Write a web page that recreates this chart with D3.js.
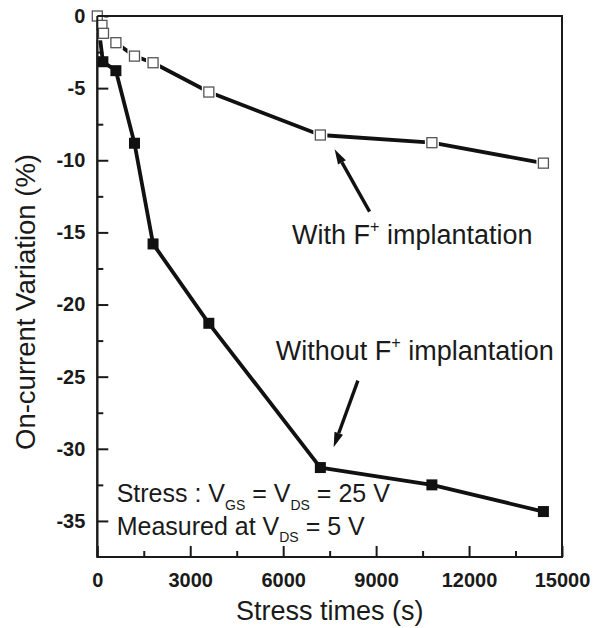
<!DOCTYPE html>
<html><head><meta charset="utf-8">
<script src="https://cdn.jsdelivr.net/npm/d3@7"></script>
<style>body{margin:0;background:#fff}svg{display:block}text{font-family:"Liberation Sans",Arial,sans-serif;fill:#1a1a1a}</style>
</head><body><svg id="c" width="594" height="628"></svg>
<script>
// Data (stress time in s, on-current variation in %)
const timesWith = [0, 150, 200, 600, 1200, 1800, 3600, 7200, 10800, 14400];
const valuesWith = [0, -0.65, -1.2, -1.85, -2.78, -3.24, -5.27, -8.25, -8.78, -10.2];
const timesWithout = [0, 180, 600, 1200, 1800, 3600, 7200, 10800, 14400];
const valuesWithout = [0, -3.17, -3.79, -8.82, -15.8, -21.3, -31.3, -32.5, -34.35];
const xTicks = [0, 3000, 6000, 9000, 12000, 15000];
const yTicks = [0, -5, -10, -15, -20, -25, -30, -35];
const xDomain = [0, 15000];
const yDomain = [-37.5, 0];
// annotation anchors in data units
const arrowWith = {from: [8788, -13.56], to: [7660, -9.24]};
const arrowWithout = {from: [8411, -25.28], to: [7628, -29.9]};

const svg = d3.select("#c");
const L = 97.3, R = 562, T = 16, B = 557;
const x = d3.scaleLinear().domain(xDomain).range([L, R]);
const y = d3.scaleLinear().domain(yDomain).range([B, T]);

// minor ticks
const xMinor = d3.range(1500, 15000, 3000);
const yMinor = d3.range(-2.5, -37.5, -5);

const gx = svg.append("g").attr("transform", `translate(0,${B})`);
gx.call(d3.axisBottom(x).tickValues(xMinor).tickSize(-6).tickFormat(""));
gx.call(g => g.select(".domain").remove());
const gx2 = svg.append("g").attr("transform", `translate(0,${B})`);
gx2.call(d3.axisBottom(x).tickValues(xTicks).tickSize(-11).tickPadding(16).tickFormat(d3.format("d")));
gx2.select(".domain").remove();
gx2.selectAll("text").attr("font-size", 20).attr("font-weight", "bold").attr("fill", "#1a1a1a").attr("font-family", "Liberation Sans, Arial, sans-serif");

const gy = svg.append("g").attr("transform", `translate(${L},0)`);
gy.call(d3.axisLeft(y).tickValues(yMinor).tickSize(-6).tickFormat(""));
gy.select(".domain").remove();
const gy2 = svg.append("g").attr("transform", `translate(${L},0)`);
gy2.call(d3.axisLeft(y).tickValues(yTicks).tickSize(-11).tickPadding(12).tickFormat(d => d === 0 ? "0" : "-" + Math.abs(d)));
gy2.select(".domain").remove();
gy2.selectAll("text").attr("font-size", 20).attr("font-weight", "bold").attr("fill", "#1a1a1a").attr("font-family", "Liberation Sans, Arial, sans-serif");
svg.selectAll(".tick line").attr("stroke", "#1a1a1a").attr("stroke-width", 2);

// frame
svg.append("rect").attr("x", L).attr("y", T).attr("width", R - L).attr("height", B - T)
  .attr("fill", "none").attr("stroke", "#1a1a1a").attr("stroke-width", 2);

const line = d3.line().x(d => x(d[0])).y(d => y(d[1]));
const dWithout = timesWithout.map((t, i) => [t, valuesWithout[i]]);
const dWith = timesWith.map((t, i) => [t, valuesWith[i]]);

svg.append("path").datum(dWithout).attr("d", line).attr("fill", "none")
  .attr("stroke", "#111").attr("stroke-width", 3.8).attr("stroke-linejoin", "round");
svg.append("g").selectAll("rect").data(dWithout.slice(1)).join("rect")
  .attr("x", d => x(d[0]) - 5.5).attr("y", d => y(d[1]) - 5.5).attr("width", 11).attr("height", 11)
  .attr("fill", "#111");

svg.append("path").datum(dWith).attr("d", line).attr("fill", "none")
  .attr("stroke", "#111").attr("stroke-width", 3.8).attr("stroke-linejoin", "round");
const gw = svg.append("g");
gw.selectAll("rect.halo").data(dWith).join("rect").attr("class", "halo")
  .attr("x", d => x(d[0]) - 7).attr("y", d => y(d[1]) - 7).attr("width", 14).attr("height", 14).attr("fill", "#fff");
gw.selectAll("rect.m").data(dWith).join("rect").attr("class", "m")
  .attr("x", d => x(d[0]) - 5).attr("y", d => y(d[1]) - 5).attr("width", 10).attr("height", 10)
  .attr("fill", "#fff").attr("stroke", "#555").attr("stroke-width", 1.3);
// redraw frame over clipped first markers
svg.append("line").attr("x1", L).attr("x2", R).attr("y1", T).attr("y2", T).attr("stroke", "#1a1a1a").attr("stroke-width", 2);
svg.append("line").attr("x1", L).attr("x2", L).attr("y1", T).attr("y2", B).attr("stroke", "#1a1a1a").attr("stroke-width", 2);

// arrows
function arrow(a) {
  const x1 = x(a.from[0]), y1 = y(a.from[1]), x2 = x(a.to[0]), y2 = y(a.to[1]);
  const ang = Math.atan2(y2 - y1, x2 - x1);
  const hl = 15, hw = 4.5;
  const bx = x2 - hl * Math.cos(ang), by = y2 - hl * Math.sin(ang);
  svg.append("line").attr("x1", x1).attr("y1", y1).attr("x2", bx).attr("y2", by)
    .attr("stroke", "#111").attr("stroke-width", 3.4);
  const px = -Math.sin(ang) * hw, py = Math.cos(ang) * hw;
  svg.append("path").attr("d", `M${x2},${y2}L${bx + px},${by + py}L${bx - px},${by - py}Z`).attr("fill", "#111");
}
arrow(arrowWith);
arrow(arrowWithout);

// annotation texts
function label(tx, ty, parts, size) {
  const t = svg.append("text").attr("x", x(tx)).attr("y", y(ty)).attr("font-size", size);
  parts.forEach(p => {
    const s = t.append("tspan").text(p.t);
    if (p.sub) s.attr("font-size", size * 0.56).attr("dy", size * 0.3);
    else if (p.sup) s.attr("font-size", size * 0.6).attr("dy", -size * 0.45);
    else if (p.back) s.attr("dy", p.back);
  });
}
label(6284, -15.8, [{t: "With F"}, {t: "+", sup: true}, {t: " implantation", back: 27 * 0.45}], 27);
label(5759, -23.84, [{t: "Without F"}, {t: "+", sup: true}, {t: " implantation", back: 27 * 0.45}], 27);
label(625, -33.7, [{t: "Stress : V"}, {t: "GS", sub: true}, {t: " = V", back: -25 * 0.3}, {t: "DS", sub: true}, {t: " = 25 V", back: -25 * 0.3}], 25);
label(625, -35.97, [{t: "Measured at V"}, {t: "DS", sub: true}, {t: " = 5 V", back: -25 * 0.3}], 25);

// axis titles
svg.append("text").attr("x", (L + R) / 2).attr("y", 620).attr("text-anchor", "middle").attr("font-size", 27).text("Stress times (s)");
svg.append("text").attr("transform", `translate(35,302) rotate(-90)`).attr("text-anchor", "middle").attr("font-size", 27.5).text("On-current Variation (%)");
</script></body></html>
